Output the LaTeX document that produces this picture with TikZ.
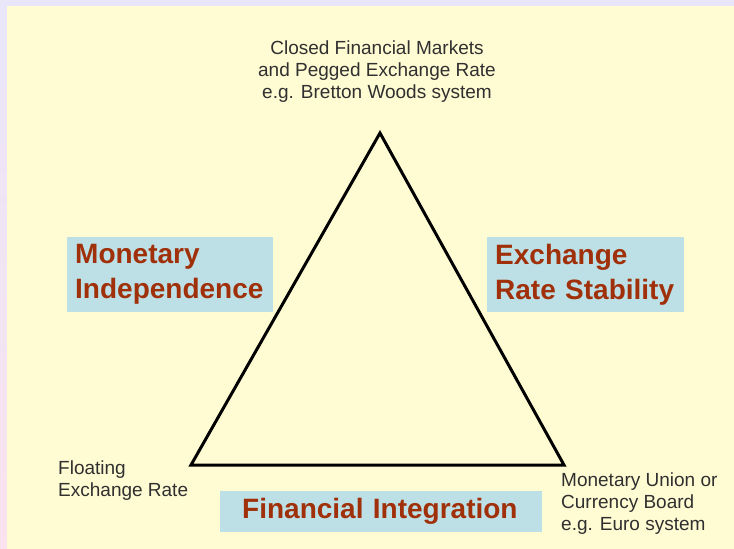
\documentclass[tikz,border=0pt]{standalone}
\usepackage{fontspec}
\setmainfont{Liberation Sans}
\usepackage{xcolor}
\usetikzlibrary{positioning}

\definecolor{paleyellow}{HTML}{FFFBD3}
\definecolor{lavender}{HTML}{E8E6F8}
\definecolor{pinkish}{HTML}{FAE2EE}
\definecolor{boxblue}{HTML}{BDE0E6}
\definecolor{goalred}{HTML}{A0300A}
\definecolor{darkgrey}{HTML}{303030}

\tikzset{
  goalbox/.style={rectangle,fill=boxblue,anchor=north west,align=left,
    inner xsep=8pt,inner ysep=0pt,text=goalred,
    font=\fontsize{28}{35}\selectfont\bfseries},
  pointtext/.style={inner sep=0pt,text=darkgrey,
    font=\fontsize{19}{22}\selectfont},
  side/.style={line width=3pt,black}
}

\begin{document}
\begin{tikzpicture}[x=1pt,y=-1pt]
\useasboundingbox (0,0) rectangle (734,549);
% page background
\fill[lavender] (0,0) rectangle (734,549);
\shade[top color=lavender,bottom color=pinkish] (0,6) rectangle (7,549);
\fill[paleyellow] (7,6) rectangle (734,549);
% corners of the triangle
\coordinate (apex) at (380,133);
\coordinate (bl) at (191,465);
\coordinate (br) at (564,465);
\draw[side] (apex) -- (bl) -- (br) -- cycle;
% the three regimes (anchored on their last line)
\node[pointtext,anchor=base,align=center] (closed) at (377,98)
  {Closed Financial Markets\\and Pegged Exchange Rate\\e.g. Bretton Woods system};
\node[pointtext,anchor=base west,align=left] (float) at (58,496)
  {Floating\\Exchange Rate};
\node[pointtext,anchor=base west,align=left] (union) at (561,530)
  {Monetary Union or\\Currency Board\\e.g. Euro system};
% the three goals
\node[goalbox,text width=190pt,minimum height=75pt] (mi) at (67,237)
  {Monetary\\Independence};
\node[goalbox,text width=181pt,minimum height=75pt] (ers) at (487,237)
  {Exchange\\Rate Stability};
\node[goalbox,inner xsep=22pt,text width=278pt,minimum height=41pt] (fi) at (220,491)
  {Financial Integration};
\end{tikzpicture}
\end{document}
